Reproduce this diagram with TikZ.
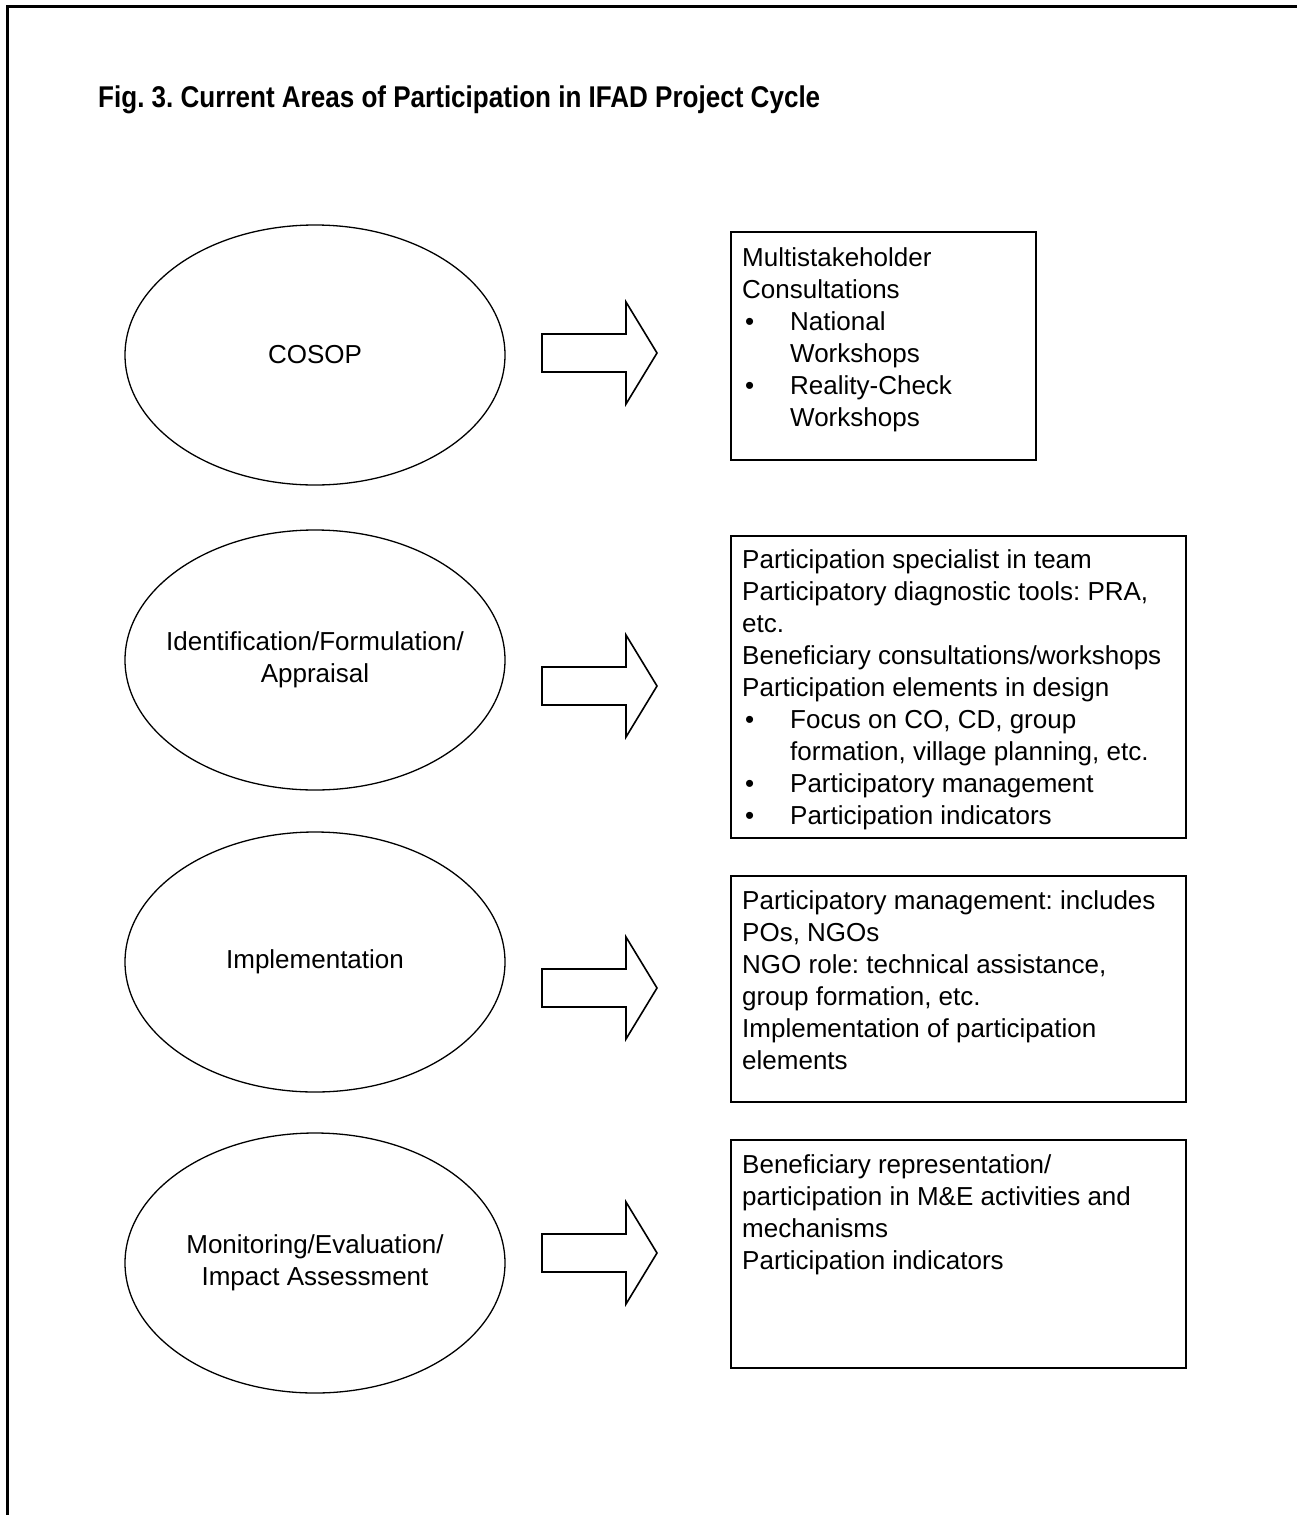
\documentclass[tikz,border=0pt]{standalone}
\usepackage{graphicx}
\usepackage{fontspec}
\setmainfont{Liberation Sans}
\usetikzlibrary{shapes.geometric}
\frenchspacing
\newcommand\bodyfont{\fontsize{26pt}{32pt}\selectfont}
\newcommand\firstln{\rule{0pt}{20pt}}
\newcommand\bul{\makebox[48pt][l]{\hspace{3pt}\textbullet}}
\newcommand\ind{\makebox[48pt]{}}
\tikzset{
  stage/.style={draw, ellipse, line width=1.3pt, minimum width=380pt, minimum height=260pt,
    inner sep=0pt},
  stagetext/.style={inner sep=0pt, align=center, font=\bodyfont},
  infobox/.style={draw, line width=1.5pt, rectangle, inner sep=0pt, anchor=north west},
  boxtext/.style={anchor=north west, inner sep=0pt, align=left, font=\bodyfont},
  blockarrow/.style={draw, line width=1.6pt, line join=miter},
  frameline/.style={line width=3pt}
}
\begin{document}
\begin{tikzpicture}[x=1pt,y=-1pt]
\useasboundingbox (0,0) rectangle (1297,1515);
% frame
\draw[frameline] (1297,6) -- (7,6) -- (7,1515);
% title
\node[anchor=base west, inner sep=0pt] (title) at (98,107)
  {\resizebox{722pt}{\height}{\fontsize{30pt}{36pt}\selectfont\bfseries Fig. 3. Current Areas of Participation in IFAD Project Cycle}};
% stages
\node[stage] (s1) at (315,355) {};
\node[stage] (s2) at (315,660) {};
\node[stage] (s3) at (315,962) {};
\node[stage] (s4) at (315,1263) {};
\node[stagetext] (l1) at (s1.center) {COSOP};
\node[stagetext] (l2) at (s2.center) {Identification/Formulation/\\Appraisal};
\node[stagetext] (l3) at (s3.center) {Implementation};
\node[stagetext] (l4) at (s4.center) {Monitoring/Evaluation/\\Impact Assessment};
% boxes
\node[infobox, minimum width=305pt, minimum height=228pt] (b1) at (730,231) {};
\node[infobox, minimum width=455pt, minimum height=302pt] (b2) at (730,535) {};
\node[infobox, minimum width=455pt, minimum height=226pt] (b3) at (730,875) {};
\node[infobox, minimum width=455pt, minimum height=228pt] (b4) at (730,1139) {};
% box texts
\node[boxtext] (t1) at (742,246) {\firstln Multistakeholder\\ Consultations\\ \bul National\\ \ind Workshops\\ \bul Reality-Check\\ \ind Workshops};
\node[boxtext] (t2) at (742,548) {\firstln Participation specialist in team\\ Participatory diagnostic tools: PRA,\\ etc.\\ Beneficiary consultations/workshops\\ Participation elements in design\\ \bul Focus on CO, CD, group\\ \ind formation, village planning, etc.\\ \bul Participatory management\\ \bul Participation indicators};
\node[boxtext] (t3) at (742,889) {\firstln Participatory management: includes\\ POs, NGOs\\ NGO role: technical assistance,\\ group formation, etc.\\ Implementation of participation\\ elements};
\node[boxtext] (t4) at (742,1153) {\firstln Beneficiary representation/\\ participation in M\&E activities and\\ mechanisms\\ Participation indicators};
% block arrows
\foreach \y in {353,686,988,1253}
  \draw[blockarrow] (542,\y-19) -- (626,\y-19) -- (626,\y-51) -- (657,\y) -- (626,\y+51) -- (626,\y+19) -- (542,\y+19) -- cycle;
\end{tikzpicture}
\end{document}
